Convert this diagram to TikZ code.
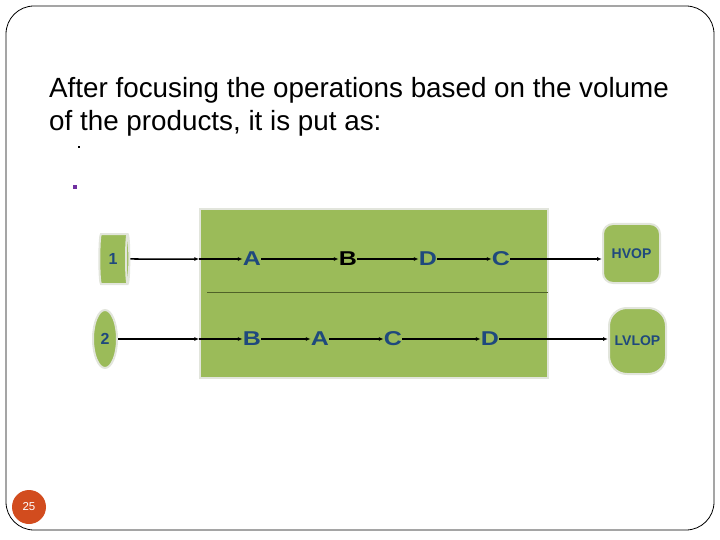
\documentclass[tikz,border=0pt]{standalone}
\usepackage{fontspec}
\setmainfont{Liberation Sans}
\usetikzlibrary{shapes.geometric,arrows.meta}
\definecolor{slidegreen}{RGB}{155,187,89}
\definecolor{lettblue}{RGB}{31,73,125}
\definecolor{rimgray}{RGB}{226,229,220}
\definecolor{numorange}{RGB}{210,76,30}
\definecolor{divgreen}{RGB}{79,98,40}
\definecolor{dotpurple}{RGB}{112,48,160}

\begin{document}
\begin{tikzpicture}[x=1pt, y=-1pt,
	oper/.style={inner sep=0pt, font=\fontsize{20}{20}\selectfont\bfseries},
	flow/.style={-{Latex[length=5pt,width=4pt]}, line width=1.5pt},
	prod/.style={fill=slidegreen, draw=rimgray, line width=2pt, text=lettblue, font=\fontsize{16}{16}\selectfont\bfseries},
	cell/.style={fill=slidegreen, draw=rimgray, line width=2pt, minimum width=57pt, text=lettblue, font=\fontsize{14}{14}\selectfont\bfseries}]
		\useasboundingbox (0,0) rectangle (720,540);
		\draw[rounded corners=28pt, line width=0.8pt] (6,6) rectangle (714,530);
		
		\node[anchor=base west, inner sep=0pt, font=\fontsize{27.8}{30}\selectfont] (title1) at (49,98) {After focusing the operations based on the volume};
		\node[anchor=base west, inner sep=0pt, font=\fontsize{27.8}{30}\selectfont] (title2) at (49,131) {of the products, it is put as:};
		\fill (78,146) rectangle (80,148);
		\fill[dotpurple] (73,185) rectangle (77,189);
		
		\node[fill=slidegreen, draw=rimgray, line width=1.5pt, minimum width=348pt, minimum height=169pt, inner sep=0pt] (board) at (374,293.5) {};
		\draw[divgreen, line width=0.8pt] (207,292) -- (548,292);
		
		\node[prod, cylinder, shape aspect=0.3, minimum width=50pt, minimum height=30pt, inner sep=0pt,
			cylinder uses custom fill, cylinder body fill=slidegreen, cylinder end fill=rimgray!60!white] (one) at (113,259) {1};
		\node[prod, ellipse, minimum width=24pt, minimum height=58pt, inner sep=0pt] (two) at (105,339) {2};
		\node[cell, rounded corners=10pt, minimum height=59pt] (hvop) at (631.5,253.5) {HVOP};
		\node[cell, rounded corners=18pt, minimum height=66pt] (lvlop) at (637.5,341) {LVLOP};
		
		\coordinate (in1) at (board.west |- one);
		\coordinate (in2) at (board.west |- two);
		
		\foreach \n/\x/\t/\c in {a1/252/A/lettblue, b1/348/B/black, d1/428/D/lettblue, c1/501/C/lettblue}
		{
			\node[oper, text=\c] (\n) at (\x,259) {\scalebox{1.25}[1]{\t}};
		}
		\foreach \n/\x/\t in {b2/252/B, a2/320/A, c2/393/C, d2/490/D}
		{
			\node[oper, text=lettblue] (\n) at (\x,339) {\scalebox{1.25}[1]{\t}};
		}
		
		\draw[flow] (one) -- (in1);
		\draw[flow] (in1) -- (a1);
		\draw[flow] (a1) -- (b1);
		\draw[flow] (b1) -- (d1);
		\draw[flow] (d1) -- (c1);
		\draw[flow] (c1) -- (c1 -| hvop.west);
		
		\draw[flow, line width=1.8pt] (two) -- (in2);
		\draw[flow, line width=1.8pt] (in2) -- (b2);
		\draw[flow, line width=1.8pt] (b2) -- (a2);
		\draw[flow, line width=1.8pt] (a2) -- (c2);
		\draw[flow, line width=1.8pt] (c2) -- (d2);
		\draw[flow, line width=1.8pt] (d2) -- (d2 -| lvlop.west);
		
		\node[circle, fill=numorange, minimum size=34pt, inner sep=0pt, text=white, font=\fontsize{11.5}{11.5}\selectfont] (pagenum) at (29,507) {25};
	\end{tikzpicture}
\end{document}
